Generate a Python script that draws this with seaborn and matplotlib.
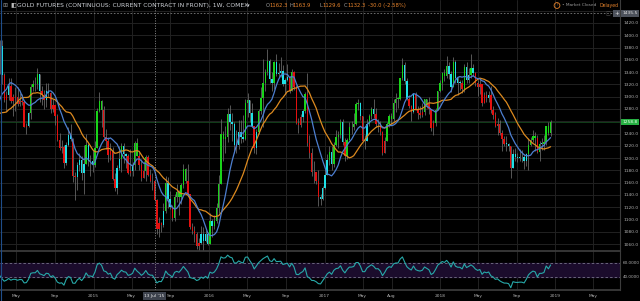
import numpy as np
import pandas as pd
import matplotlib
matplotlib.use("Agg")
import matplotlib.pyplot as plt
import matplotlib.dates as mdates
import matplotlib.transforms as mtrans
import seaborn as sns

sns.set_theme(style="dark")
plt.rcParams["font.family"] = ["DejaVu Sans"]

# ---------------- data: weekly COMEX gold, weeks starting Monday ----------------
first_week = "2013-09-02"
open_ = [
    # 2013 (Sep-Dec)
    1396, 1387, 1308, 1333, 1338, 1310, 1273, 1315, 1352, 1315, 1287, 1288, 1244, 1250, 1231, 1235, 1204, 1213,
    # 2014
    1238, 1247, 1254, 1264, 1240, 1263, 1318, 1324, 1326, 1338, 1383, 1336, 1294, 1303, 1318, 1293, 1300, 1300,
    1288, 1293, 1292, 1251, 1253, 1274, 1316, 1320, 1320, 1337, 1310, 1303, 1294, 1309, 1306, 1280, 1287, 1268,
    1229, 1216, 1218, 1192, 1222, 1238, 1231, 1171, 1169, 1188, 1197, 1175, 1191, 1222, 1195, 1195,
    # 2015
    1189, 1217, 1277, 1293, 1278, 1234, 1228, 1205, 1212, 1166, 1152, 1184, 1199, 1219, 1206, 1203, 1175, 1179,
    1188, 1225, 1204, 1189, 1168, 1179, 1201, 1173, 1163, 1162.3, 1132, 1085, 1094, 1091, 1113, 1159, 1133, 1121,
    1103, 1137, 1145, 1137, 1156, 1182, 1163, 1142, 1088, 1081, 1076, 1056, 1061, 1076, 1065, 1076,
    # 2016
    1060, 1098, 1089, 1097, 1118, 1158, 1239, 1231, 1235, 1271, 1259, 1255, 1222, 1222, 1243, 1235, 1231, 1290,
    1294, 1273, 1253, 1216, 1243, 1276, 1298, 1323, 1340, 1358, 1328, 1322, 1357, 1337, 1339, 1341, 1321, 1327,
    1332, 1310, 1340, 1316, 1257, 1254, 1267, 1276, 1304, 1225, 1209, 1178, 1177, 1162, 1137, 1133,
    # 2017
    1152, 1173, 1197, 1210, 1191, 1221, 1235, 1238, 1258, 1226, 1204, 1230, 1250, 1250, 1255, 1288, 1289, 1268,
    1228, 1228, 1255, 1268, 1280, 1271, 1255, 1256, 1242, 1209, 1228, 1255, 1268, 1264, 1290, 1297, 1297, 1330,
    1351, 1325, 1297, 1284, 1275, 1304, 1280, 1273, 1270, 1275, 1296, 1288, 1280, 1249, 1257, 1279,
    # 2018
    1309, 1322, 1338, 1333, 1350, 1337, 1315, 1356, 1330, 1323, 1323, 1313, 1349, 1327, 1336, 1347, 1338, 1323,
    1315, 1320, 1290, 1303, 1298, 1302, 1278, 1270, 1253, 1255, 1241, 1231, 1223, 1223, 1219, 1184, 1206, 1201,
    1200, 1201, 1201, 1196, 1207, 1222, 1230, 1236, 1233, 1210, 1223, 1223, 1226, 1252, 1241,
]
high = [
    1425, 1389, 1375, 1345, 1340, 1332, 1325, 1361, 1361, 1327, 1297, 1289, 1264, 1254, 1268, 1250, 1218, 1238,
    1251, 1256, 1270, 1280, 1269, 1321, 1333, 1346, 1355, 1392, 1392, 1338, 1309, 1331, 1331, 1305, 1316, 1315,
    1306, 1304, 1295, 1257, 1275, 1321, 1327, 1332, 1346, 1337, 1318, 1311, 1322, 1322, 1308, 1296, 1287, 1271,
    1241, 1230, 1222, 1226, 1250, 1255, 1232, 1177, 1194, 1208, 1204, 1221, 1239, 1224, 1205, 1213,
    1227, 1282, 1307, 1294, 1285, 1247, 1234, 1224, 1218, 1176, 1188, 1220, 1224, 1224, 1209, 1206, 1215, 1194,
    1228, 1232, 1210, 1198, 1196, 1205, 1205, 1182, 1175, 1163.9, 1133, 1104, 1096, 1126, 1170, 1169, 1147, 1124,
    1141, 1157, 1148, 1160, 1191, 1183, 1191, 1142, 1095, 1090, 1079, 1069, 1089, 1088, 1082, 1080,
    1111, 1100, 1107, 1127, 1172, 1263, 1244, 1253, 1282, 1287, 1273, 1259, 1246, 1262, 1262, 1270, 1296, 1306,
    1294, 1290, 1253, 1248, 1280, 1316, 1362, 1345, 1377, 1361, 1340, 1358, 1370, 1355, 1364, 1351, 1330, 1353,
    1333, 1345, 1342, 1319, 1265, 1272, 1280, 1308, 1338, 1238, 1217, 1196, 1178, 1180, 1142, 1155,
    1182, 1207, 1220, 1219, 1226, 1245, 1244, 1264, 1264, 1233, 1233, 1259, 1261, 1274, 1291, 1296, 1292, 1269,
    1237, 1264, 1272, 1283, 1297, 1282, 1263, 1261, 1244, 1235, 1258, 1272, 1274, 1296, 1306, 1300, 1331, 1363,
    1357, 1330, 1302, 1287, 1306, 1307, 1285, 1284, 1290, 1297, 1297, 1299, 1280, 1262, 1281, 1310,
    1327, 1340, 1345, 1366, 1357, 1341, 1365, 1360, 1332, 1327, 1327, 1354, 1356, 1347, 1369, 1353, 1340, 1327,
    1328, 1321, 1308, 1310, 1309, 1317, 1284, 1275, 1265, 1262, 1246, 1236, 1236, 1225, 1220, 1215, 1217, 1208,
    1215, 1213, 1207, 1209, 1233, 1234, 1246, 1243, 1238, 1227, 1232, 1238, 1253, 1258, 1262,
]
low = [
    1379, 1307, 1292, 1311, 1278, 1272, 1251, 1313, 1304, 1281, 1262, 1241, 1221, 1211, 1222, 1185, 1193, 1182,
    1218, 1230, 1241, 1238, 1238, 1262, 1305, 1323, 1324, 1337, 1321, 1291, 1277, 1295, 1290, 1268, 1277, 1285,
    1284, 1287, 1250, 1240, 1251, 1264, 1309, 1310, 1312, 1292, 1287, 1280, 1283, 1301, 1273, 1275, 1254, 1228,
    1213, 1208, 1183, 1189, 1219, 1227, 1161, 1131, 1148, 1179, 1164, 1142, 1190, 1187, 1171, 1178,
    1185, 1216, 1275, 1250, 1232, 1215, 1194, 1197, 1164, 1147, 1142, 1181, 1178, 1192, 1183, 1174, 1171, 1170,
    1181, 1203, 1180, 1162, 1167, 1162, 1170, 1161, 1148, 1129.6, 1077, 1072, 1080, 1088, 1111, 1118, 1117, 1098,
    1097, 1128, 1108, 1125, 1151, 1159, 1140, 1085, 1077, 1063, 1052, 1046, 1060, 1046, 1063, 1058,
    1060, 1072, 1084, 1094, 1111, 1157, 1195, 1208, 1226, 1245, 1228, 1208, 1208, 1215, 1225, 1226, 1230, 1267,
    1259, 1251, 1208, 1206, 1240, 1271, 1250, 1309, 1336, 1322, 1310, 1313, 1334, 1332, 1332, 1317, 1305, 1325,
    1306, 1309, 1311, 1255, 1241, 1250, 1259, 1274, 1220, 1200, 1171, 1160, 1157, 1122, 1124, 1131,
    1149, 1172, 1188, 1180, 1185, 1219, 1216, 1232, 1221, 1195, 1198, 1229, 1240, 1245, 1254, 1278, 1262, 1227,
    1215, 1227, 1252, 1263, 1265, 1251, 1242, 1238, 1205, 1208, 1227, 1250, 1255, 1261, 1275, 1281, 1295, 1327,
    1320, 1294, 1281, 1261, 1273, 1278, 1263, 1265, 1267, 1270, 1281, 1272, 1244, 1237, 1253, 1279,
    1307, 1311, 1325, 1330, 1329, 1307, 1315, 1322, 1303, 1311, 1306, 1308, 1322, 1322, 1330, 1334, 1318, 1301,
    1305, 1285, 1290, 1292, 1292, 1274, 1264, 1250, 1238, 1237, 1211, 1220, 1212, 1211, 1167, 1183, 1196, 1194,
    1196, 1194, 1182, 1187, 1181, 1219, 1226, 1212, 1208, 1196, 1213, 1213, 1222, 1237, 1236,
]
close = [
    1387, 1308, 1333, 1338, 1310, 1273, 1315, 1352, 1315, 1287, 1288, 1244, 1250, 1231, 1235, 1204, 1213, 1238,
    1247, 1254, 1264, 1240, 1263, 1318, 1324, 1326, 1338, 1379, 1336, 1294, 1303, 1318, 1293, 1300, 1300, 1288,
    1293, 1292, 1251, 1253, 1274, 1316, 1320, 1320, 1337, 1310, 1303, 1294, 1309, 1306, 1280, 1287, 1268, 1229,
    1216, 1218, 1192, 1222, 1238, 1231, 1171, 1169, 1188, 1197, 1175, 1191, 1222, 1195, 1195, 1189,
    1217, 1277, 1293, 1278, 1234, 1228, 1205, 1212, 1166, 1152, 1184, 1199, 1219, 1206, 1203, 1175, 1179, 1188,
    1225, 1204, 1189, 1168, 1179, 1201, 1173, 1163, 1162.3, 1132.3, 1085, 1094, 1091, 1113, 1159, 1133, 1121, 1103,
    1137, 1145, 1137, 1156, 1182, 1163, 1142, 1088, 1081, 1076, 1056, 1061, 1076, 1065, 1076, 1060,
    1098, 1089, 1097, 1118, 1158, 1239, 1231, 1235, 1271, 1259, 1255, 1222, 1222, 1243, 1235, 1231, 1290, 1294,
    1273, 1253, 1216, 1243, 1276, 1298, 1323, 1340, 1358, 1328, 1322, 1357, 1337, 1339, 1341, 1321, 1327, 1332,
    1310, 1340, 1316, 1257, 1254, 1267, 1276, 1304, 1225, 1209, 1178, 1177, 1162, 1137, 1133, 1152,
    1173, 1197, 1210, 1191, 1221, 1235, 1238, 1258, 1226, 1204, 1230, 1250, 1250, 1255, 1288, 1289, 1268, 1228,
    1228, 1255, 1268, 1280, 1271, 1255, 1256, 1242, 1209, 1228, 1255, 1268, 1264, 1290, 1297, 1297, 1330, 1351,
    1325, 1297, 1284, 1275, 1304, 1280, 1273, 1270, 1275, 1296, 1288, 1280, 1249, 1257, 1279, 1309,
    1322, 1338, 1333, 1350, 1337, 1315, 1356, 1330, 1323, 1323, 1313, 1349, 1327, 1336, 1347, 1338, 1323, 1315,
    1320, 1290, 1303, 1298, 1302, 1278, 1270, 1253, 1255, 1241, 1231, 1223, 1223, 1219, 1184, 1206, 1201, 1200,
    1201, 1201, 1196, 1207, 1222, 1230, 1236, 1233, 1210, 1223, 1223, 1226, 1252, 1241, 1258.8,
]

x_tick_dates = ["2014-05-01", "2014-09-01", "2015-01-01", "2015-05-01", "2015-09-01", "2016-01-01",
                "2016-05-01", "2016-09-01", "2017-01-01", "2017-05-01", "2017-08-01", "2018-01-01",
                "2018-05-01", "2018-09-01", "2019-01-01", "2019-05-01"]
x_tick_labels = ["May", "Sep", "2015", "May", "Sep", "2016", "May", "Sep", "2017", "May", "Aug", "2018",
                 "May", "Sep", "2019", "May"]
price_ticks = list(range(1060, 1441, 20))
price_label_ticks = [p for p in range(1060, 1421, 20) if p != 1260]  # 1260 hidden by last-price tag
rsi_levels = [60, 40]
title_text = "GOLD FUTURES (CONTINUOUS: CURRENT CONTRACT IN FRONT), 1W, COMEX"
crosshair_date = "2015-07-13"
crosshair_date_label = "13 Jul '15"
crosshair_price = 1435.5
legend_ohlc = [("O", "1162.3"), ("H", "1163.9"), ("L", "1129.6"), ("C", "1132.3")]
legend_change = "-30.0 (-2.58%)"

# ---------------- frame ----------------
n = len(close)
df = pd.DataFrame({"date": pd.date_range(first_week, periods=n, freq="W-MON"),
                   "open": open_[:n], "high": high[:n], "low": low[:n], "close": close})
df["x"] = mdates.date2num(df["date"])
df["sma10"] = df["close"].rolling(10).mean()
df["sma20"] = df["close"].rolling(20).mean()

# RSI 14 (Wilder)
d = df["close"].diff()
up = d.clip(lower=0).ewm(alpha=1 / 14, adjust=False).mean()
dn = (-d.clip(upper=0)).ewm(alpha=1 / 14, adjust=False).mean()
df["rsi"] = 100 - 100 / (1 + up / dn)

# Elder-impulse style bar colouring
ema13 = df["close"].ewm(span=13, adjust=False).mean()
macd = df["close"].ewm(span=12, adjust=False).mean() - df["close"].ewm(span=26, adjust=False).mean()
hist = macd - macd.ewm(span=9, adjust=False).mean()
e_up, h_up = ema13.diff() > 0, hist.diff() > 0
GREEN, RED, CYAN = "#19d419", "#e3100f", "#1fe0e6"
colors = np.where(e_up & h_up, GREEN, np.where(~e_up & ~h_up, RED, CYAN))

# ---------------- figure ----------------
W, H = 640, 301
fig = plt.figure(figsize=(6.4, 3.01), dpi=100, facecolor="black")
ax = fig.add_axes([0, 1 - 251 / H, 620 / W, 251 / H])
ax2 = fig.add_axes([0, 1 - 290 / H, 620 / W, 39 / H], sharex=ax)
for a in (ax, ax2):
    a.set_facecolor("black")
    for s in a.spines.values():
        s.set_visible(False)
    a.spines["right"].set_visible(True)
    a.spines["right"].set_color("#3c3c3c")
    a.spines["right"].set_linewidth(0.8)
ax2.spines["bottom"].set_visible(True)
ax2.spines["bottom"].set_color("#3c3c3c")
ax2.spines["top"].set_visible(True)
ax2.spines["top"].set_color("#3c3c3c")

ref = mdates.date2num(pd.Timestamp("2016-01-01"))
pxday = 231 / 731
ax.set_xlim(ref - 209 / pxday, ref + 411 / pxday)
ax.set_ylim(1420 - 228 / 0.6139, 1420 + 23 / 0.6139)
ax2.set_ylim(40 - 13 / 0.7, 60 + 12 / 0.7)

GRID = "#222222"
TXT = "#b0b0b0"
FS = 3.2
xt = mdates.date2num(pd.to_datetime(x_tick_dates))
for a in (ax, ax2):
    for v in xt:
        a.axvline(v, color=GRID, lw=0.7, zorder=0)
for p in price_ticks:
    ax.axhline(p, color=GRID, lw=0.7, zorder=0)
ax.grid(False)
ax2.grid(False)

# candles
ax.vlines(df["x"], df["low"], df["high"], colors="#6e6e6e", lw=0.55, zorder=2)
body = np.maximum((df["close"] - df["open"]).abs(), 0.9)
ax.bar(df["x"], body, bottom=np.minimum(df["open"], df["close"]), width=4.4,
       color=colors, linewidth=0, zorder=3)

# moving averages
sns.lineplot(data=df, x="x", y="sma20", ax=ax, color="#dd8a1f", lw=0.9, zorder=4)
sns.lineplot(data=df, x="x", y="sma10", ax=ax, color="#4d7fd0", lw=0.9, zorder=5)

# last price line + label
last = df["close"].iloc[-1]
ax.axhline(last, color="#164f20", lw=0.55, zorder=1)
tr = mtrans.blended_transform_factory(ax.transAxes, ax.transData)
ax.text(1.004, last, f"{last:.1f}", transform=tr, ha="left", va="center", fontsize=FS,
        color="#eaffea", zorder=10, clip_on=False,
        bbox=dict(boxstyle="square,pad=0.3", fc="#27b043", ec="none"))

# crosshair
cx = mdates.date2num(pd.Timestamp(crosshair_date))
for a in (ax, ax2):
    a.axvline(cx, color="#8c8c8c", lw=0.7, ls=(0, (1, 1.6)), zorder=6)
ax.axhline(crosshair_price, color="#7c7c7c", lw=0.6, ls=(0, (2, 2)), zorder=6)
ax.text(1.004, crosshair_price, f"{crosshair_price:.1f}", transform=tr, ha="left", va="center",
        fontsize=FS, color="#e6e6e6", zorder=10, clip_on=False,
        bbox=dict(boxstyle="square,pad=0.3", fc="#4d525c", ec="none"))
fig.text(616.5 / W, 1 - 13.5 / H, "+", ha="center", va="center", fontsize=4, color="#e0e0e0",
         bbox=dict(boxstyle="square,pad=0.15", fc="#4d525c", ec="none"))
fig.text(608 / W, 1 - 13.5 / H, "\u25a1", ha="center", va="center", fontsize=3.5, color="#555555")

# y tick labels
ax.yaxis.tick_right()
ax.set_yticks(price_label_ticks)
ax.set_yticklabels([f"{p:.1f}" for p in price_label_ticks])
ax.tick_params(axis="y", length=0, pad=2.8, labelsize=FS, colors=TXT)
ax.tick_params(axis="x", length=0, labelbottom=False)
ax.set_xlabel("")
ax.set_ylabel("")

# RSI panel
ax2.axhspan(rsi_levels[1], rsi_levels[0], color="#1b0c2c", zorder=0)
for lv in rsi_levels:
    ax2.axhline(lv, color="#77748a", lw=0.6, ls=(0, (3, 2.5)), zorder=1)
sns.lineplot(data=df, x="x", y="rsi", ax=ax2, color="#27a9a9", lw=0.8, zorder=3)
ax2.yaxis.tick_right()
ax2.set_yticks(rsi_levels)
ax2.set_yticklabels([f"{v:.4f}" for v in rsi_levels])
ax2.tick_params(axis="y", length=0, pad=2.0, labelsize=2.95, colors=TXT)
ax2.set_xticks(xt)
ax2.set_xticklabels(x_tick_labels)
ax2.tick_params(axis="x", length=0, pad=3.0, labelsize=FS, colors=TXT)
ax2.set_xlabel("")
ax2.set_ylabel("")

# crosshair date label
fig.text(154.5 / W, 1 - 296 / H, crosshair_date_label, ha="center", va="center", fontsize=FS,
         color="#ececec", zorder=10, bbox=dict(boxstyle="square,pad=0.4", fc="#3d424d", ec="none"))

# left edge line
fig.add_artist(plt.Line2D([0.6 / W, 0.6 / W], [0, 1], color="#1f4d8a", lw=0.8))

# header
hy = 1 - 5.5 / H
fig.text(2 / W, hy, "\u229e", ha="left", va="center", fontsize=4.3, color="#8a8a8a")
fig.text(10 / W, hy, "\u25e7", ha="left", va="center", fontsize=4.3, color="#bdbdbd")
fig.text(17 / W, hy, title_text, ha="left", va="center", fontsize=4.3, color="#cfd2d8")
fig.text(247 / W, hy, "\u25be", ha="left", va="center", fontsize=3.8, color="#cfd2d8")
ORANGE = "#e8842c"
HFS = 3.75
for (k, v), xpos in zip(legend_ohlc, [266, 289, 319, 344]):
    fig.text(xpos / W, hy, k, ha="left", va="center", fontsize=HFS, color="#9a9a9a")
    fig.text((xpos + 3.8) / W, hy, v, ha="left", va="center", fontsize=HFS, color=ORANGE)
fig.text(368 / W, hy, legend_change, ha="left", va="center", fontsize=HFS, color=ORANGE)

# market status
fig.text(557 / W, hy, "!", ha="center", va="center", fontsize=3.2, color=ORANGE,
         bbox=dict(boxstyle="circle,pad=0.2", fc="none", ec=ORANGE, lw=0.6))
fig.text(562 / W, hy, "\u2022 Market Closed", ha="left", va="center", fontsize=3.1, color="#9a9a9a")
fig.text(600 / W, hy, "Delayed", ha="left", va="center", fontsize=3.3, color=ORANGE)

fig.savefig("out.png", dpi=100, facecolor="black")
